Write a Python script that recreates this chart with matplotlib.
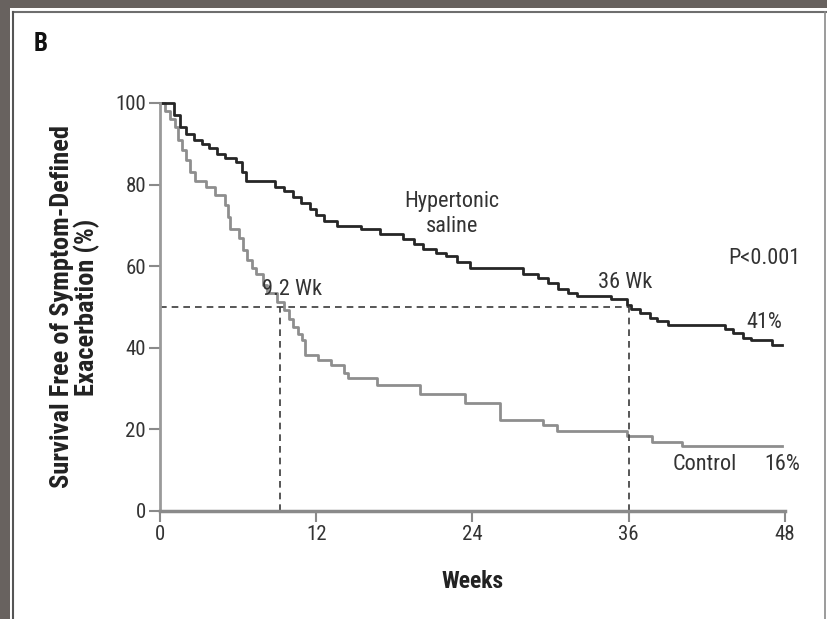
import matplotlib as mpl
import matplotlib.pyplot as plt
from matplotlib import font_manager
from matplotlib.patches import Rectangle
from matplotlib.lines import Line2D

# data
saline_wk = [0, 1.1, 1.5, 2.0, 2.6, 3.2, 3.8, 4.4, 5.0, 5.8, 6.3, 6.6, 8.8, 9.5,
             10.2, 10.8, 11.5, 12.0, 12.6, 13.6, 15.4, 16.9, 18.7, 19.5, 20.2,
             21.2, 22.0, 22.8, 23.8, 27.9, 29.0, 29.8, 30.6, 31.3, 32.0, 34.6,
             35.9, 36.2, 36.9, 37.6, 38.2, 39.0, 43.4, 44.0, 44.8, 45.4, 47.0, 47.8]
saline_pct = [100, 97, 94, 92.5, 91, 90, 89, 87.5, 86.5, 85.5, 83, 80.8, 79.5, 78.5,
              77, 75.5, 74, 72.5, 71, 69.8, 69, 67.8, 66.7, 65.5, 64.2,
              63.2, 62.5, 61, 59.5, 58, 57, 55.8, 54.5, 53.5, 52.8, 52,
              50.5, 49.5, 48.5, 47.3, 46.5, 45.6, 44.5, 43.6, 42.5, 41.8, 40.8, 40.8]

control_wk = [0, 0.4, 0.8, 1.15, 1.4, 1.7, 2.0, 2.3, 2.7, 3.5, 4.2, 5.0, 5.2, 5.4,
              6.1, 6.4, 6.7, 7.1, 7.4, 7.9, 8.2, 9.0, 9.5, 9.9, 10.2, 10.6, 10.9,
              11.1, 12.1, 13.1, 14.1, 14.4, 16.7, 20.0, 23.4, 26.1, 29.4, 30.5,
              35.9, 37.8, 40.1, 47.8]
control_pct = [100, 98, 96, 94, 91, 88.5, 86, 83, 81, 79.5, 77.5, 75, 72, 69,
               67, 64, 61.5, 59.5, 58, 55.5, 53.5, 51.2, 49.3, 47, 45, 43.5, 42,
               38.3, 37, 35.8, 33.8, 32.6, 30.9, 28.6, 26.5, 22.3, 21.1, 19.6,
               18.4, 17.0, 15.9, 15.9]

median_saline = 36
median_control = 9.2

# configuration: pick a narrow font if one is installed
installed = {f.name for f in font_manager.fontManager.ttflist}
narrow = 'Lato'
for name in ['Liberation Sans Narrow', 'Roboto Condensed', 'Open Sans Condensed']:
    if name in installed:
        narrow = name
        break
mpl.rcParams['font.family'] = [narrow, 'DejaVu Sans']
mpl.rcParams['font.size'] = 16

fig = plt.figure(figsize=(8.27, 6.19), dpi=100, facecolor='#68625f')

# panel frame
fig.patches.append(Rectangle((10 / 827, 0), 1, 1 - 8 / 619, transform=fig.transFigure,
                             facecolor='white', edgecolor='none', zorder=-10))
fig.lines.append(Line2D([13 / 827, 1], [1 - 12 / 619] * 2, transform=fig.transFigure,
                        color='#6e6e6e', lw=1.5, zorder=-5))
fig.lines.append(Line2D([13 / 827] * 2, [0, 1 - 12 / 619], transform=fig.transFigure,
                        color='#555555', lw=1.5, zorder=-5))
fig.lines.append(Line2D([825 / 827] * 2, [0, 1 - 12 / 619], transform=fig.transFigure,
                        color='#8a8a8a', lw=1.2, zorder=-5))

ax = fig.add_axes([160 / 827, 108 / 619, 625 / 827, 408 / 619])
ax.set_facecolor('none')

ax.step(control_wk, control_pct, where='post', color='#8e8e8e', lw=2, clip_on=False)
ax.step(saline_wk, saline_pct, where='post', color='#262626', lw=2, clip_on=False)

# median lines
ax.plot([0, median_saline], [50, 50], ls=(0, (4, 3)), color='#3a3a3a', lw=1.2)
ax.plot([median_control, median_control], [0, 50], ls=(0, (4, 3)), color='#3a3a3a', lw=1.2)
ax.plot([median_saline, median_saline], [0, 50], ls=(0, (4, 3)), color='#3a3a3a', lw=1.2)

ax.set_xlim(0, 48)
ax.set_ylim(0, 100)
ax.set_xticks([0, 12, 24, 36, 48])
ax.set_yticks([0, 20, 40, 60, 80, 100])

for s in ['top', 'right']:
    ax.spines[s].set_visible(False)
ax.spines['left'].set_color('#9a9a9a')
ax.spines['left'].set_linewidth(2)
ax.spines['bottom'].set_color('#8a8a8a')
ax.spines['bottom'].set_linewidth(2.5)
ax.tick_params(colors='#8a8a8a', labelcolor='#333333', labelsize=15,
               length=8, width=1.5, pad=2)

# labels
ax.set_xlabel('Weeks', fontsize=17, fontweight='bold', color='#222222', va='center')
ax.xaxis.set_label_coords(0.5, (511 - 582) / 408)
ax.set_ylabel('Survival Free of Symptom-Defined\nExacerbation (%)', fontsize=19,
              fontweight='bold', color='#222222', linespacing=1.0, va='center')
ax.yaxis.set_label_coords((75 - 160) / 625, 0.5)

# annotations
txt = dict(fontsize=16, color='#333333', va='center')
ax.text(22.4, 72.8, 'Hypertonic\nsaline', ha='center', linespacing=1.25, **txt)
ax.text(49.2, 62, 'P<0.001', ha='right', **txt)
ax.text(7.85, 54.2, '9.2 Wk', ha='left', **txt)
ax.text(33.6, 56.1, '36 Wk', ha='left', **txt)
ax.text(47.8, 46.3, '41%', ha='right', **txt)
ax.text(41.8, 11.3, 'Control', ha='center', **txt)
ax.text(49.2, 11.3, '16%', ha='right', **txt)

fig.text(34 / 827, 1 - 44 / 619, 'B', fontsize=18, fontweight='bold', color='#111111',
         va='center', ha='left')

plt.savefig('out.png', dpi=100, facecolor=fig.get_facecolor())
